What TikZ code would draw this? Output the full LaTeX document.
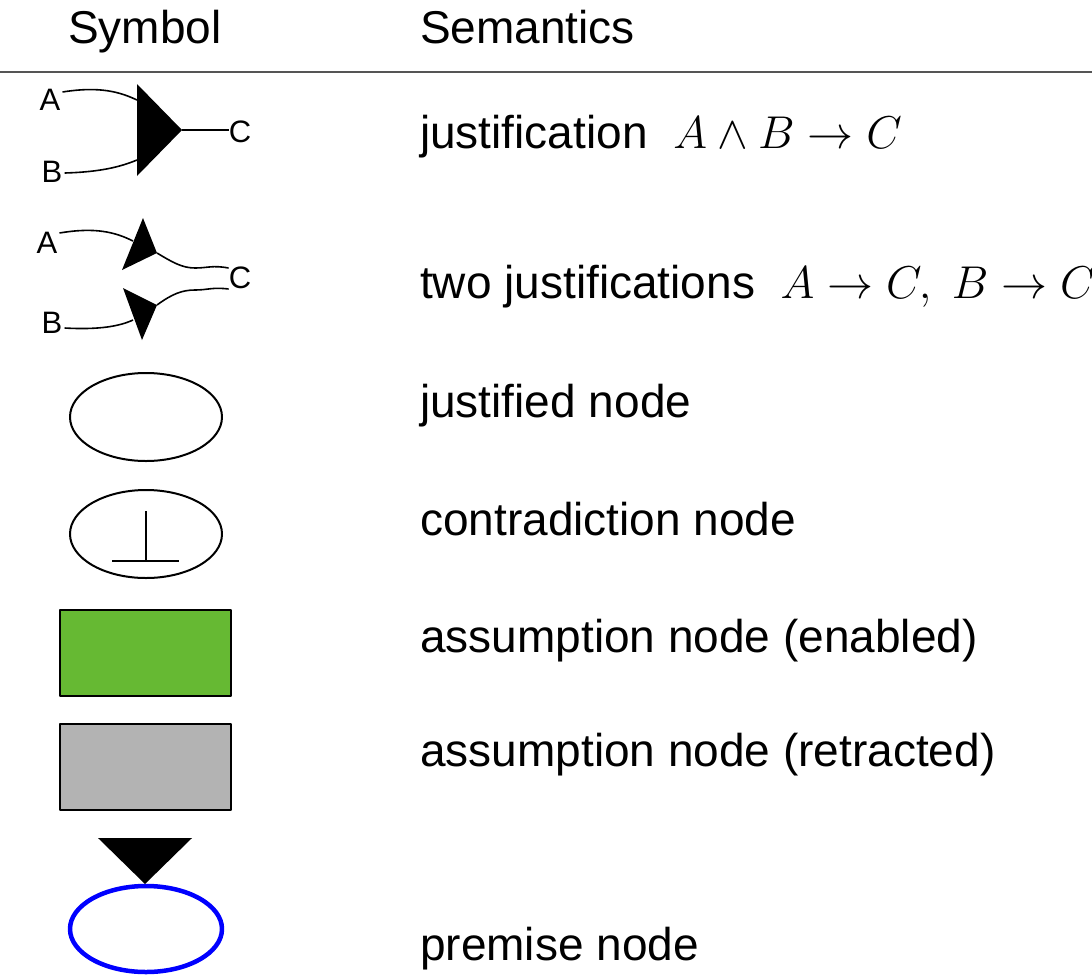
\RequirePackage{fix-cm}
\documentclass[tikz,border=0pt]{standalone}
\usepackage{fontspec}
\setmainfont{Liberation Sans}
\usepackage{xcolor}
\usepackage{tikz}
\definecolor{kgreen}{HTML}{66B933}
\definecolor{kgray}{HTML}{B3B3B3}
\definecolor{krule}{HTML}{555555}

\begin{document}
\begin{tikzpicture}[x=1pt, y=-1pt, line join=round,
  txt/.style={anchor=base west, inner sep=0pt, font=\fontsize{46}{54}\selectfont},
  head/.style={txt, anchor=base},
  lbl/.style={inner sep=0pt, font=\fontsize{31}{36}\selectfont},
  link/.style={black, line width=1.6pt},
  tip/.style={fill=black, draw=none},
  jnode/.style={draw=black, line width=2pt},
  anode/.style={draw=black, line width=2pt}]
\useasboundingbox (0,0) rectangle (1092,975);
% header
\node[head] (hsym) at (145,43) {Symbol};
\node[txt] (hsem) at (420,43) {Semantics};
\coordinate (rl) at (0,72);
\coordinate (rr) at (1092,72);
\draw[krule, line width=2pt] (rl) -- (rr);

% justification
\node[lbl] (a1) at (50,100) {A};
\node[lbl] (b1) at (52,172) {B};
\node[lbl] (c1) at (240,132) {C};
\coordinate (j1a) at (137,100);
\coordinate (j1b) at (137,160);
\coordinate (j1t) at (182,130);
\fill[tip] (137,84) -- (137,176) -- (j1t) -- cycle;
\draw[link] (a1.east) ++(2,-8) .. controls (100,86) and (120,92) .. (j1a);
\draw[link] (b1.east) ++(2,1) .. controls (100,172) and (120,167) .. (j1b);
\draw[link] (j1t) -- (j1t -| c1.west);
\node[txt] (s1) at (420,148) {justification\ \ $A\wedge B\to C$};

% two justifications
\node[lbl] (a2) at (47,243) {A};
\node[lbl] (b2) at (52,323) {B};
\node[lbl] (c2) at (240,278) {C};
\coordinate (j2a) at (133,241);
\coordinate (j2t) at (157,253);
\coordinate (j2b) at (133,320);
\coordinate (j2u) at (157,305);
\fill[tip] (143,218) -- (122,270) -- (j2t) -- cycle;
\fill[tip] (123,288) -- (j2u) -- (142,340) -- cycle;
\draw[link] (a2.east) ++(2,-10) .. controls (95,227) and (115,232) .. (j2a);
\draw[link] (b2.east) ++(2,5) .. controls (100,330) and (120,326) .. (j2b);
\draw[link] (j2t) .. controls (172,262) and (182,268) .. (195,268)
  .. controls (208,268) and (212,265) .. ([yshift=10pt]c2.west);
\draw[link] (j2u) .. controls (172,294) and (182,290) .. (195,290)
  .. controls (208,290) and (212,287) .. ([yshift=-11pt]c2.west);
\node[txt] (s2) at (420,298) {two justifications\ \ $A\to C,\ B\to C$};

% justified node
\draw[jnode] (146,417) ellipse [x radius=76, y radius=44];
\node[txt] (s3) at (420,417) {justified node};

% contradiction node
\draw[jnode] (146,534) ellipse [x radius=76, y radius=44];
\draw[line width=2.5pt] (146,511) -- (146,561) (112,561) -- (179,561);
\node[txt] (s4) at (420,535) {contradiction node};

% assumption nodes
\draw[anode, fill=kgreen] (60,610) rectangle (231,696);
\node[txt] (s5) at (420,652) {assumption node (enabled)};
\draw[anode, fill=kgray] (60,724) rectangle (231,810);
\node[txt] (s6) at (420,766) {assumption node (retracted)};

% premise node
\fill[tip] (98,838) -- (192,838) -- (145,884) -- cycle;
\draw[blue, line width=4.5pt] (146,929) ellipse [x radius=76, y radius=43];
\node[txt] (s7) at (420,960) {premise node};
\end{tikzpicture}
\end{document}
